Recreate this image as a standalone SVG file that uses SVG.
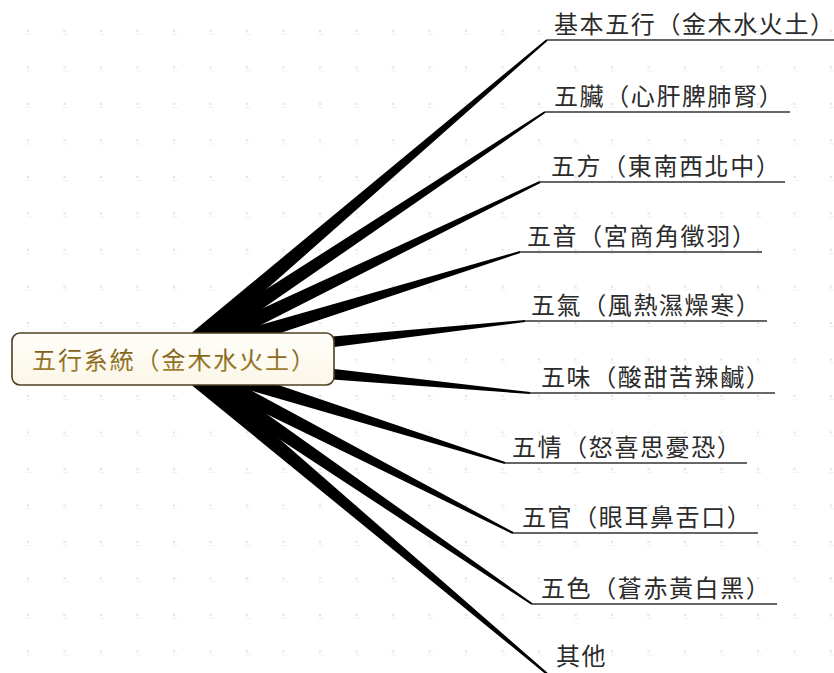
<svg xmlns="http://www.w3.org/2000/svg" width="834" height="673" viewBox="0 0 834 673">
<defs>
<pattern id="dots" patternUnits="userSpaceOnUse" x="26" y="29" width="36.5" height="36.5">
<circle cx="2" cy="2" r="1.3" fill="#e4e4e4"/>
<rect x="0" y="5" width="6" height="1" fill="#f0f0f0"/>
</pattern>
<linearGradient id="gold" x1="0" y1="0" x2="0" y2="1">
<stop offset="0" stop-color="#6e5310"/>
<stop offset="1" stop-color="#a8862e"/>
</linearGradient>
<linearGradient id="nodefill" x1="0" y1="0" x2="0" y2="1">
<stop offset="0" stop-color="#fffefa"/>
<stop offset="1" stop-color="#fbf6e8"/>
</linearGradient>
</defs>
<style>
.lbl{font-family:"Noto Sans CJK TC","Noto Sans CJK SC",sans-serif;font-size:24px;letter-spacing:1.6px;fill:#2b2b2b}
.ul{stroke:#333;stroke-width:1.6;fill:none}
.br{fill:#000}
.ctr{font-family:"Noto Sans CJK TC","Noto Sans CJK SC",sans-serif;font-size:24px;letter-spacing:1.9px;fill:url(#gold)}
</style>
<rect width="834" height="673" fill="#fff"/>
<rect width="834" height="673" fill="url(#dots)"/>
<g id="connectors">
<polygon class="br" points="179.85,365.84 547.65,40.76 546.35,39.24 168.15,352.16"/>
<polygon class="br" points="178.99,366.49 545.55,112.83 544.45,111.17 169.01,351.51"/>
<polygon class="br" points="177.92,367.10 540.44,182.90 539.56,181.10 170.08,350.90"/>
<polygon class="br" points="176.66,367.60 520.30,252.96 519.70,251.04 171.34,350.40"/>
<polygon class="br" points="174.97,367.95 525.11,321.99 524.89,320.01 173.03,350.05"/>
<polygon class="br" points="173.14,367.96 529.90,394.00 530.10,392.00 174.86,350.04"/>
<polygon class="br" points="171.30,367.59 504.70,463.95 505.30,462.05 176.70,350.41"/>
<polygon class="br" points="169.89,367.01 512.54,533.89 513.46,532.11 178.11,350.99"/>
<polygon class="br" points="168.92,366.43 531.44,604.83 532.56,603.17 179.08,351.57"/>
<polygon class="br" points="168.19,365.88 551.35,678.76 552.65,677.24 179.81,352.12"/>
</g>
<g id="center">
<rect x="12" y="333" width="322" height="52" rx="8" fill="url(#nodefill)" stroke="#4f4020" stroke-width="1.6"/>
<text class="ctr" x="32" y="369">五行系統（金木水火土）</text>
</g>
<g id="n1"><path class="ul" d="M547,40H834"/><text class="lbl" x="554" y="33">基本五行（金木水火土）</text></g>
<g id="n2"><path class="ul" d="M545,112H790"/><text class="lbl" x="554" y="105">五臟（心肝脾肺腎）</text></g>
<g id="n3"><path class="ul" d="M540,182H785"/><text class="lbl" x="551" y="175">五方（東南西北中）</text></g>
<g id="n4"><path class="ul" d="M520,252H762"/><text class="lbl" x="527" y="245">五音（宮商角徵羽）</text></g>
<g id="n5"><path class="ul" d="M525,321H767"/><text class="lbl" x="531" y="314">五氣（風熱濕燥寒）</text></g>
<g id="n6"><path class="ul" d="M530,393H775"/><text class="lbl" x="541" y="386">五味（酸甜苦辣鹹）</text></g>
<g id="n7"><path class="ul" d="M505,463H747"/><text class="lbl" x="512" y="456">五情（怒喜思憂恐）</text></g>
<g id="n8"><path class="ul" d="M513,533H758"/><text class="lbl" x="522" y="526">五官（眼耳鼻舌口）</text></g>
<g id="n9"><path class="ul" d="M532,604H777"/><text class="lbl" x="541" y="597">五色（蒼赤黃白黑）</text></g>
<g id="n10"><text class="lbl" x="556" y="665">其他</text></g>
</svg>
